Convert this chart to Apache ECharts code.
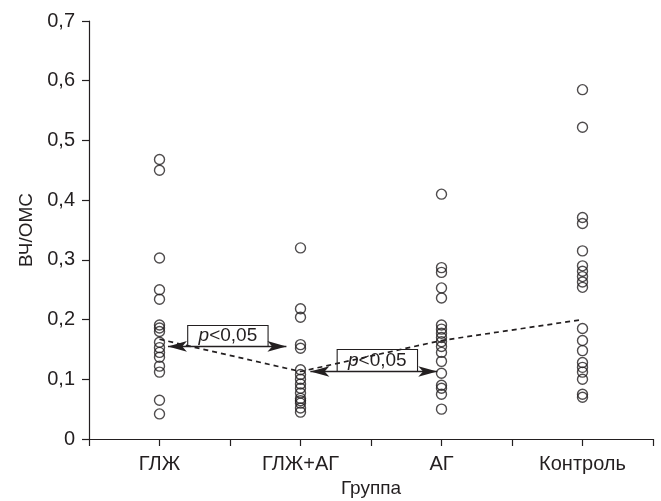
<!DOCTYPE html>
<html>
<head>
<meta charset="utf-8">
<script src="https://cdn.jsdelivr.net/npm/echarts@6/dist/echarts.min.js"></script>
<style>html,body{margin:0;padding:0;background:#fff;}#c{width:661px;height:501px;}</style>
</head>
<body>
<div id="c"></div>
<script>
const categories = ['ГЛЖ', 'ГЛЖ+АГ', 'АГ', 'Контроль'];
const glz = [0.468, 0.45, 0.303, 0.25, 0.234, 0.191, 0.186, 0.18, 0.162, 0.153, 0.145, 0.137, 0.122, 0.112, 0.065, 0.042];
const glzAg = [0.32, 0.218, 0.204, 0.158, 0.152, 0.116, 0.108, 0.1, 0.092, 0.085, 0.077, 0.068, 0.064, 0.06, 0.052, 0.045];
const ag = [0.41, 0.287, 0.279, 0.253, 0.236, 0.191, 0.184, 0.177, 0.17, 0.163, 0.155, 0.145, 0.13, 0.11, 0.09, 0.085, 0.075, 0.05];
const control = [0.585, 0.522, 0.371, 0.361, 0.315, 0.29, 0.281, 0.272, 0.263, 0.254, 0.185, 0.165, 0.148, 0.128, 0.12, 0.112, 0.1, 0.075, 0.07];
const trend = [0.167, 0.113, 0.165, 0.2];
// annotations: [xStart, xEnd, y] in data units (category index space)
const arrows = [[0.56, 1.40, 0.155], [1.57, 2.47, 0.113]];
// boxes: [xStart, xEnd, yLow, yHigh]
const boxes = [[0.70, 1.27, 0.155, 0.19], [1.76, 2.33, 0.113, 0.15]];
const pLabel = '{i|p}<0,05';

const groups = [glz, glzAg, ag, control];
const scatterData = [];
groups.forEach((g, i) => g.forEach(v => scatterData.push([i + 0.5, v])));

const font = 'Liberation Sans, Arial, sans-serif';
const ink = '#231f20';

const chart = echarts.init(document.getElementById('c'));
chart.setOption({
  animation: false,
  backgroundColor: '#fff',
  grid: { left: 89, right: 8, top: 21, bottom: 62, outerBoundsMode: 'none', containLabel: false },
  xAxis: {
    type: 'value', min: 0, max: 4, interval: 0.5,
    name: 'Группа', nameLocation: 'middle', nameGap: 40,
    nameTextStyle: { fontFamily: font, fontSize: 19, color: ink },
    axisLine: { lineStyle: { color: ink, width: 1.2 } },
    axisTick: { show: true, length: 7, lineStyle: { color: ink, width: 1.2 } },
    splitLine: { show: false },
    axisLabel: {
      fontFamily: font, fontSize: 20, color: ink, margin: 15,
      formatter: v => { const k = v - 0.5; return Number.isInteger(k) && categories[k] ? categories[k] : ''; }
    }
  },
  yAxis: {
    type: 'value', min: 0, max: 0.7, interval: 0.1,
    name: 'ВЧ/ОМС', nameLocation: 'middle', nameGap: 48, nameRotate: 90,
    nameTextStyle: { fontFamily: font, fontSize: 19, color: ink },
    axisLine: { show: true, lineStyle: { color: ink, width: 1.2 } },
    axisTick: { show: true, length: 7, lineStyle: { color: ink, width: 1.2 } },
    splitLine: { show: false },
    axisLabel: {
      fontFamily: font, fontSize: 20, color: ink, margin: 14,
      formatter: v => String(+v.toFixed(1)).replace('.', ',')
    }
  },
  series: [
    {
      type: 'line', data: trend.map((v, i) => [i + 0.5, v]),
      symbol: 'none', silent: true, z: 2,
      lineStyle: { color: ink, width: 1.7, type: [5, 4] },
      markLine: {
        silent: true, symbol: ['arrow', 'arrow'], symbolSize: [8, 19],
        label: { show: false },
        lineStyle: { color: ink, width: 1.4, type: 'solid' },
        data: arrows.map(a => [{ coord: [a[0], a[2]] }, { coord: [a[1], a[2]] }])
      },
      markArea: {
        silent: true,
        itemStyle: { color: 'rgba(0,0,0,0)', borderColor: ink, borderWidth: 1.1 },
        label: {
          show: true, position: 'inside', formatter: pLabel,
          fontFamily: font, fontSize: 19, color: ink,
          rich: { i: { fontFamily: font, fontSize: 19, fontStyle: 'italic', color: ink } }
        },
        data: boxes.map(b => [{ coord: [b[0], b[3]] }, { coord: [b[1], b[2]] }])
      }
    },
    {
      type: 'scatter', data: scatterData, symbol: 'circle', symbolSize: 10, z: 5,
      itemStyle: { color: 'rgba(255,255,255,0)', borderColor: ink, borderWidth: 1.4 }
    }
  ]
});
</script>
</body>
</html>
